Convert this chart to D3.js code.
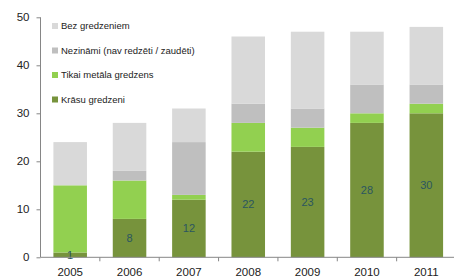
<!DOCTYPE html>
<html><head><meta charset="utf-8">
<script src="https://cdn.jsdelivr.net/npm/d3@7"></script>
<style>body{margin:0;background:#fff}svg{display:block}</style>
</head><body>
<svg id="c" width="454" height="279"></svg>
<script>
const years = ["2005","2006","2007","2008","2009","2010","2011"];
const krasu = [1, 8, 12, 22, 23, 28, 30];
const tikaiMetala = [14, 8, 1, 6, 4, 2, 2];
const nezinami = [0, 2, 11, 4, 4, 6, 4];
const bez = [9, 10, 7, 14, 16, 11, 12];
const seriesNames = ["Krāsu gredzeni","Tikai metāla gredzens","Nezināmi (nav redzēti / zaudēti)","Bez gredzeniem"];
const seriesColors = ["#77933c","#92d050","#bfbfbf","#d9d9d9"];
const yTicks = [0,10,20,30,40,50];

const rows = years.map((y,i)=>({year:y, s0:krasu[i], s1:tikaiMetala[i], s2:nezinami[i], s3:bez[i]}));
const keys = ["s0","s1","s2","s3"];
const stacked = d3.stack().keys(keys)(rows);

const svg = d3.select("#c");
const x0 = 40.5, x1 = 456, yTop = 17.3, yBot = 257.3;
const x = d3.scaleBand().domain(years).range([x0, x1]).paddingInner(0.435).paddingOuter(0.2175);
const y = d3.scaleLinear().domain([0,50]).range([yBot, yTop]);

svg.append("g").selectAll("g").data(stacked).join("g")
  .attr("fill",(d,i)=>seriesColors[i])
  .selectAll("rect").data(d=>d).join("rect")
  .attr("x",d=>x(d.data.year)).attr("width",x.bandwidth())
  .attr("y",d=>y(d[1])).attr("height",d=>y(d[0])-y(d[1]));

// data labels for Krāsu gredzeni
svg.append("g").selectAll("text").data(stacked[0]).join("text")
  .attr("x",d=>x(d.data.year)+x.bandwidth()/2)
  .attr("y",d=>(y(d[0])+y(d[1]))/2)
  .attr("dy","0.35em").attr("text-anchor","middle")
  .attr("font-family","Liberation Sans, Arial, sans-serif").attr("font-size",11)
  .attr("fill","#2b5660")
  .text(d=>d[1]-d[0]);

// y axis
const yAxis = svg.append("g").attr("transform",`translate(${x0},0)`)
  .call(d3.axisLeft(y).tickValues(yTicks).tickSize(4).tickPadding(7));
yAxis.select(".domain").attr("stroke","#868686").attr("d",`M0,${yBot}V${yTop}`);
yAxis.selectAll(".tick line").attr("stroke","#868686");
yAxis.selectAll(".tick text").attr("font-family","Liberation Sans, Arial, sans-serif").attr("font-size",11.5).attr("fill","#222");

// x axis
const xAxis = svg.append("g").attr("transform",`translate(0,${yBot})`)
  .call(d3.axisBottom(x).tickSize(0).tickPadding(11));
xAxis.select(".domain").attr("stroke","#868686").attr("d",`M${x0},0H${x1}`);
xAxis.selectAll(".tick text").attr("font-family","Liberation Sans, Arial, sans-serif").attr("font-size",11.5).attr("fill","#222");
const step = x.step();
svg.append("g").selectAll("line").data(years.slice(1)).join("line")
  .attr("x1",d=>x(d)-(step-x.bandwidth())/2).attr("x2",d=>x(d)-(step-x.bandwidth())/2)
  .attr("y1",yBot).attr("y2",yBot+4).attr("stroke","#868686");

// legend (reverse order)
const legendOrder = [3,2,1,0];
const lg = svg.append("g").selectAll("g").data(legendOrder).join("g")
  .attr("transform",(d,i)=>`translate(52,${26+i*24.5})`);
lg.append("rect").attr("x",0).attr("y",-3).attr("width",6).attr("height",6).attr("fill",d=>seriesColors[d]);
lg.append("text").attr("x",9).attr("dy","0.35em")
  .attr("font-family","Liberation Sans, Arial, sans-serif").attr("font-size",9.5).attr("fill","#222")
  .text(d=>seriesNames[d]);
</script>
</body></html>
